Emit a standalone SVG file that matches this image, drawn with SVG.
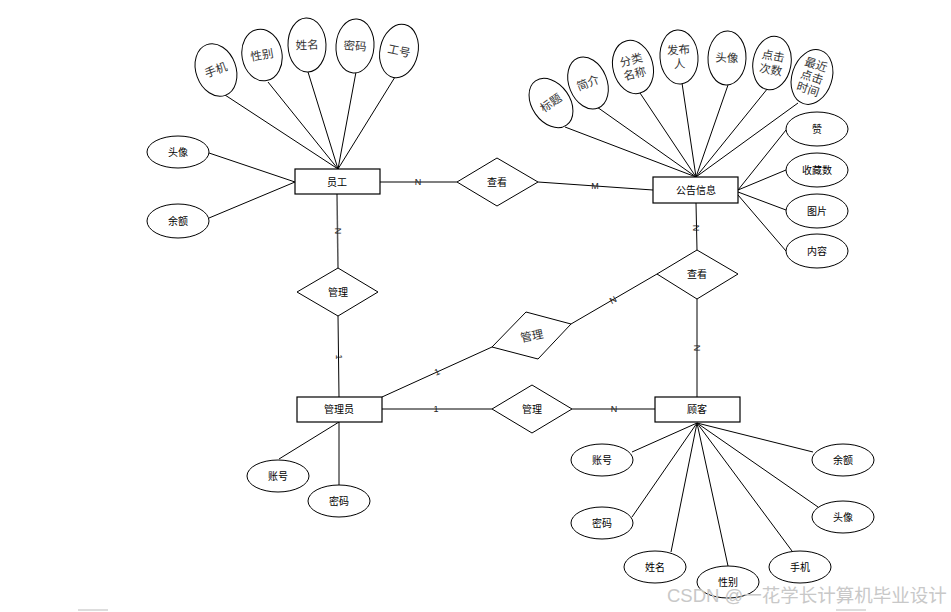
<svg xmlns="http://www.w3.org/2000/svg" width="951" height="612" viewBox="0 0 951 612">
<style>
.e{fill:#fff;stroke:#000;stroke-width:1}
.r{fill:#fff;stroke:#000;stroke-width:1.2}
.d{fill:#fff;stroke:#000;stroke-width:1}
.l{stroke:#000;stroke-width:1;fill:none}
.lg{stroke:#555;stroke-width:1.5;fill:none}
text{font-family:"Liberation Sans","Noto Sans CJK SC",sans-serif;text-anchor:middle;dominant-baseline:central}
.t{font-size:10px;fill:#000}
.ta{font-size:11.5px;fill:#333}
.lb{font-size:9px;fill:#222}
.wm{font-size:18.5px;fill:#c8c8c8;text-anchor:start}
</style>
<rect width="951" height="612" fill="#fff"/>
<g id="connectors">
<line class="l" x1="225" y1="95" x2="338" y2="169"/>
<line class="l" x1="268" y1="82" x2="338" y2="169"/>
<line class="l" x1="308" y1="72" x2="338" y2="169"/>
<line class="l" x1="356" y1="72" x2="338" y2="169"/>
<line class="l" x1="395" y1="77" x2="338" y2="169"/>
<line class="l" x1="209" y1="153" x2="295" y2="182"/>
<line class="l" x1="209" y1="218" x2="295" y2="182"/>
<line class="lg" x1="380" y1="182" x2="457" y2="182"/>
<line class="l" x1="538" y1="182" x2="653" y2="190"/>
<line class="l" x1="565" y1="127" x2="696" y2="177"/>
<line class="l" x1="597" y1="107" x2="696" y2="177"/>
<line class="l" x1="640" y1="93" x2="696" y2="177"/>
<line class="l" x1="682" y1="83" x2="696" y2="177"/>
<line class="l" x1="728" y1="85" x2="696" y2="177"/>
<line class="l" x1="768" y1="88" x2="696" y2="177"/>
<line class="l" x1="798" y1="103" x2="696" y2="177"/>
<line class="l" x1="786" y1="130" x2="738" y2="190"/>
<line class="l" x1="786" y1="170" x2="738" y2="190"/>
<line class="l" x1="786" y1="210" x2="738" y2="192"/>
<line class="l" x1="786" y1="251" x2="738" y2="195"/>
<line class="lg" x1="337" y1="194" x2="338" y2="268"/>
<line class="l" x1="338" y1="316" x2="339" y2="397"/>
<line class="l" x1="382" y1="409" x2="492" y2="409"/>
<line class="l" x1="572" y1="409" x2="655" y2="409"/>
<line class="l" x1="696" y1="203" x2="697" y2="250"/>
<line class="l" x1="697" y1="299" x2="697" y2="397"/>
<line class="l" x1="571" y1="324" x2="657" y2="274"/>
<line class="l" x1="382" y1="397" x2="492" y2="347"/>
<line class="l" x1="279" y1="459" x2="339" y2="422"/>
<line class="l" x1="339" y1="422" x2="339" y2="485"/>
<line class="l" x1="632" y1="452" x2="697" y2="423"/>
<line class="l" x1="632" y1="517" x2="697" y2="423"/>
<line class="l" x1="671" y1="552" x2="697" y2="423"/>
<line class="l" x1="728" y1="566" x2="697" y2="423"/>
<line class="l" x1="792" y1="551" x2="697" y2="423"/>
<line class="l" x1="818" y1="507" x2="697" y2="423"/>
<line class="l" x1="813" y1="452" x2="697" y2="423"/>
<g id="labels">
<text class="lb" x="418" y="182" fill="#36c">N</text>
<text class="lb" x="595" y="186" fill="#555">M</text>
<text class="lb" transform="translate(338,231) rotate(90)">N</text>
<text class="lb" transform="translate(339,357) rotate(90)">1</text>
<text class="lb" x="436" y="409">1</text>
<text class="lb" x="614" y="409" fill="#36c">N</text>
<text class="lb" transform="translate(696,228) rotate(90)">N</text>
<text class="lb" transform="translate(697,348) rotate(90)">N</text>
<text class="lb" transform="translate(613,300) rotate(-30)" fill="#888">N</text>
<text class="lb" transform="translate(437,372) rotate(-24)">1</text>
</g>
</g>
<g id="n-yuangong"><rect class="r" x="295" y="169" width="85" height="25"/><text class="t" x="337" y="182">员工</text></g>
<g id="n-gonggao"><rect class="r" x="653" y="177" width="85" height="26"/><text class="t" x="696" y="190">公告信息</text></g>
<g id="n-guanliyuan"><rect class="r" x="297" y="397" width="85" height="25"/><text class="t" x="339" y="409">管理员</text></g>
<g id="n-guke"><rect class="r" x="655" y="397" width="85" height="25"/><text class="t" x="697" y="409">顾客</text></g>
<g id="r-chakan1"><polygon class="d" points="457,182 497,158 538,182 497,206"/><text class="t" x="497" y="182">查看</text></g>
<g id="r-guanli1"><polygon class="d" points="297,292 338,268 378,292 338,316"/><text class="t" x="338" y="292">管理</text></g>
<g id="r-chakan2"><polygon class="d" points="657,274 697,250 738,274 697,299"/><text class="t" x="697" y="274">查看</text></g>
<g id="r-guanli2"><polygon class="d" points="492,409 532,385 572,409 532,433"/><text class="t" x="532" y="409">管理</text></g>
<g id="r-guanli3"><polygon class="d" points="492,347 526,312 571,324 538,359"/><text class="ta" transform="translate(532,336) rotate(-12)" fill="#777">管理</text></g>
<g id="a-yg-shouji" transform="translate(216,70) rotate(-20)"><ellipse class="e" rx="20" ry="27"/><text class="ta">手机</text></g>
<g id="a-yg-xingbie" transform="translate(262,55) rotate(-10)"><ellipse class="e" rx="20" ry="26"/><text class="ta">性别</text></g>
<g id="a-yg-xingming" transform="translate(307,45) rotate(-2)"><ellipse class="e" rx="19" ry="27"/><text class="ta">姓名</text></g>
<g id="a-yg-mima" transform="translate(355,46) rotate(4)"><ellipse class="e" rx="19" ry="27"/><text class="ta">密码</text></g>
<g id="a-yg-gonghao" transform="translate(399,51) rotate(12)"><ellipse class="e" rx="19" ry="27"/><text class="ta">工号</text></g>
<g id="a-yg-touxiang"><ellipse class="e" cx="178" cy="152" rx="31" ry="16"/><text class="t" x="178" y="152">头像</text></g>
<g id="a-yg-yue"><ellipse class="e" cx="178" cy="221" rx="31" ry="17"/><text class="t" x="178" y="221">余额</text></g>
<g id="a-gg-biaoti" transform="translate(551,103) rotate(-35)"><ellipse class="e" rx="19" ry="27"/><text class="ta">标题</text></g>
<g id="a-gg-jianjie" transform="translate(588,83) rotate(-22)"><ellipse class="e" rx="19" ry="27"/><text class="ta">简介</text></g>
<g id="a-gg-fenlei" transform="translate(633,67) rotate(-15)"><ellipse class="e" rx="20" ry="27"/><text class="ta" y="-7">分类</text><text class="ta" y="7">名称</text></g>
<g id="a-gg-fabuen" transform="translate(679,57) rotate(-4)"><ellipse class="e" rx="19" ry="27"/><text class="ta" y="-7">发布</text><text class="ta" y="7">人</text></g>
<g id="a-gg-touxiang" transform="translate(727,58) rotate(2)"><ellipse class="e" rx="19" ry="27"/><text class="ta">头像</text></g>
<g id="a-gg-dianji" transform="translate(772,63) rotate(10)"><ellipse class="e" rx="19" ry="27"/><text class="ta" y="-7">点击</text><text class="ta" y="7">次数</text></g>
<g id="a-gg-zuijin" transform="translate(812,77) rotate(18)"><ellipse class="e" rx="20" ry="28"/><text class="ta" y="-13">最近</text><text class="ta" y="0">点击</text><text class="ta" y="13">时间</text></g>
<g id="a-gg-zan"><ellipse class="e" cx="817" cy="129" rx="31" ry="17"/><text class="t" x="817" y="129">赞</text></g>
<g id="a-gg-shoucang"><ellipse class="e" cx="817" cy="170" rx="31" ry="17"/><text class="t" x="817" y="170">收藏数</text></g>
<g id="a-gg-tupian"><ellipse class="e" cx="817" cy="211" rx="31" ry="17"/><text class="t" x="817" y="211">图片</text></g>
<g id="a-gg-neirong"><ellipse class="e" cx="817" cy="251" rx="31" ry="17"/><text class="t" x="817" y="251">内容</text></g>
<g id="a-gly-zhanghao"><ellipse class="e" cx="278" cy="476" rx="31" ry="16"/><text class="t" x="278" y="476">账号</text></g>
<g id="a-gly-mima"><ellipse class="e" cx="339" cy="501" rx="31" ry="16"/><text class="t" x="339" y="501">密码</text></g>
<g id="a-gk-zhanghao"><ellipse class="e" cx="602" cy="460" rx="31" ry="16"/><text class="t" x="602" y="460">账号</text></g>
<g id="a-gk-mima"><ellipse class="e" cx="602" cy="523" rx="31" ry="16"/><text class="t" x="602" y="523">密码</text></g>
<g id="a-gk-xingming"><ellipse class="e" cx="655" cy="567" rx="31" ry="16"/><text class="t" x="655" y="567">姓名</text></g>
<g id="a-gk-xingbie"><ellipse class="e" cx="728" cy="582" rx="31" ry="16"/><text class="t" x="728" y="582">性别</text></g>
<g id="a-gk-shouji"><ellipse class="e" cx="800" cy="567" rx="31" ry="16"/><text class="t" x="800" y="567">手机</text></g>
<g id="a-gk-touxiang"><ellipse class="e" cx="843" cy="517" rx="31" ry="16"/><text class="t" x="843" y="517">头像</text></g>
<g id="a-gk-yue"><ellipse class="e" cx="843" cy="460" rx="31" ry="16"/><text class="t" x="843" y="460">余额</text></g>
<text class="wm" x="667" y="595">CSDN @一花学长计算机毕业设计</text>
<line x1="78" y1="610" x2="108" y2="610" stroke="#bbb" stroke-width="1"/>
<line x1="836" y1="610" x2="866" y2="610" stroke="#bbb" stroke-width="1"/>
</svg>
